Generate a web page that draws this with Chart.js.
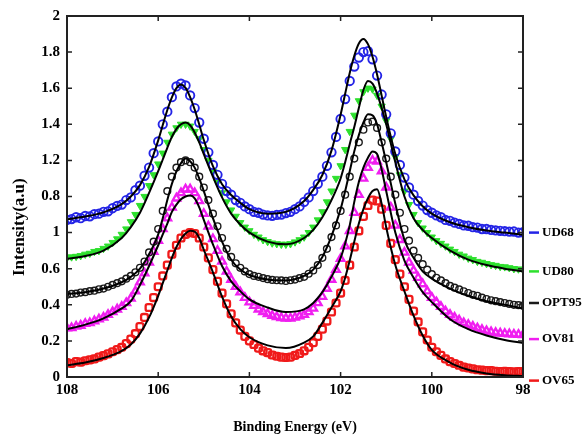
<!DOCTYPE html>
<html><head><meta charset="utf-8">
<script src="https://cdn.jsdelivr.net/npm/chart.js@4"></script>
<style>html,body{margin:0;padding:0;background:#fff;}#wrap{width:587px;height:439px;}</style>
</head><body><div id="wrap"><canvas id="c" width="587" height="439"></canvas></div>
<script>
// Binding energy (eV) of the measured points
const markerEnergy = [108,107.9,107.8,107.7,107.6,107.5,107.4,107.3,107.2,107.1,
107,106.9,106.8,106.7,106.6,106.5,106.4,106.3,106.2,106.1,
106,105.9,105.8,105.7,105.6,105.5,105.4,105.3,105.2,105.1,
105,104.9,104.8,104.7,104.6,104.5,104.4,104.3,104.2,104.1,
104,103.9,103.8,103.7,103.6,103.5,103.4,103.3,103.2,103.1,
103,102.9,102.8,102.7,102.6,102.5,102.4,102.3,102.2,102.1,
102,101.9,101.8,101.7,101.6,101.5,101.4,101.3,101.2,101.1,
101,100.9,100.8,100.7,100.6,100.5,100.4,100.3,100.2,100.1,
100,99.9,99.8,99.7,99.6,99.5,99.4,99.3,99.2,99.1,
99,98.9,98.8,98.7,98.6,98.5,98.4,98.3,98.2,98.1,
98];
// Binding energy (eV) of the fitted curves
const fitEnergy = [108,107.6,107.2,106.8,106.6,106.4,106.2,106,105.9,105.8,
105.7,105.6,105.5,105.4,105.3,105.2,105.1,105,104.8,104.6,
104.4,104.2,104,103.6,103.2,102.8,102.6,102.4,102.2,102,
101.9,101.8,101.7,101.6,101.5,101.4,101.3,101.2,101.1,101,
100.8,100.6,100.4,100.2,100,99.6,99.2,98.8,98.4,98];

const ud68Points = [.87,.875,.885,.88,.892,.89,.902,.905,.915,.918,
.935,.948,.955,.98,.995,1.035,1.06,1.115,1.16,1.24,
1.305,1.40,1.47,1.55,1.61,1.625,1.615,1.56,1.49,1.41,
1.32,1.245,1.175,1.12,1.07,1.03,1.01,.98,.965,.945,
.93,.915,.91,.90,.895,.893,.898,.90,.908,.915,
.93,.945,.97,.995,1.03,1.07,1.11,1.17,1.245,1.33,
1.43,1.54,1.64,1.72,1.77,1.80,1.805,1.76,1.67,1.565,
1.455,1.35,1.25,1.175,1.105,1.05,1.01,.975,.95,.925,
.91,.895,.885,.87,.865,.855,.848,.84,.838,.83,
.828,.82,.82,.815,.812,.81,.808,.805,.806,.80,
.802];
const ud68Fit = [.874,.889,.912,.958,1.00,1.063,1.164,1.311,1.396,1.479,
1.549,1.60,1.62,1.602,1.551,1.482,1.399,1.313,1.168,1.068,
1.008,.965,.93,.905,.915,.975,1.037,1.119,1.254,1.453,
1.569,1.684,1.78,1.848,1.873,1.844,1.774,1.676,1.559,1.441,
1.235,1.095,1.006,.946,.905,.857,.83,.812,.80,.788];

const ud80Points = [.66,.665,.668,.672,.68,.685,.695,.70,.712,.725,
.745,.765,.79,.82,.86,.90,.95,1.00,1.06,1.12,
1.18,1.24,1.30,1.345,1.38,1.40,1.40,1.39,1.36,1.32,
1.26,1.20,1.14,1.08,1.02,.97,.925,.89,.855,.83,
.81,.79,.775,.76,.75,.742,.738,.735,.735,.738,
.748,.76,.775,.80,.83,.87,.915,.97,1.03,1.10,
1.17,1.26,1.36,1.45,1.53,1.58,1.60,1.595,1.56,1.50,
1.42,1.32,1.22,1.12,1.03,.955,.90,.855,.825,.80,
.775,.755,.74,.725,.708,.695,.68,.67,.658,.65,
.64,.635,.628,.622,.618,.612,.61,.605,.60,.598,
.595];
const ud80Fit = [.655,.67,.70,.77,.83,.91,1.02,1.14,1.205,1.27,
1.33,1.375,1.40,1.41,1.395,1.355,1.30,1.235,1.11,.995,
.905,.845,.80,.75,.735,.77,.815,.885,.98,1.10,
1.19,1.29,1.385,1.49,1.59,1.64,1.625,1.57,1.49,1.40,
1.19,1.00,.88,.815,.77,.70,.65,.62,.60,.585];

const opt95Points = [.455,.46,.462,.468,.47,.476,.478,.486,.49,.50,
.51,.52,.53,.545,.56,.58,.605,.64,.69,.75,
.82,.92,1.03,1.11,1.16,1.19,1.20,1.19,1.16,1.11,
1.05,.98,.905,.835,.77,.71,.665,.63,.605,.585,
.57,.56,.555,.548,.542,.538,.536,.535,.532,.536,
.54,.548,.555,.572,.59,.62,.66,.71,.775,.84,
.92,1.01,1.11,1.21,1.30,1.37,1.41,1.415,1.38,1.30,
1.21,1.11,1.01,.91,.82,.755,.70,.66,.625,.595,
.57,.55,.535,.52,.505,.495,.485,.475,.465,.455,
.45,.44,.432,.425,.42,.415,.41,.405,.40,.398,
.395];
const opt95Fit = [.46,.47,.49,.525,.555,.60,.68,.79,.88,.98,
1.07,1.14,1.185,1.21,1.195,1.16,1.10,1.03,.88,.75,
.65,.595,.565,.54,.535,.56,.595,.665,.78,.93,
1.03,1.14,1.25,1.34,1.41,1.455,1.45,1.40,1.30,1.19,
.96,.76,.66,.585,.545,.49,.45,.42,.40,.38];

const ov81Points = [.27,.272,.28,.285,.295,.30,.31,.32,.33,.345,
.36,.375,.39,.41,.435,.475,.525,.575,.635,.695,
.755,.82,.88,.94,.99,1.02,1.04,1.04,1.02,.975,
.905,.835,.765,.70,.64,.585,.54,.50,.47,.44,
.415,.395,.375,.36,.35,.34,.333,.328,.325,.325,
.33,.337,.345,.36,.38,.41,.445,.49,.54,.595,
.655,.725,.81,.91,1.01,1.10,1.16,1.20,1.195,1.14,
1.05,.94,.84,.76,.69,.635,.59,.55,.515,.475,
.44,.415,.39,.365,.345,.33,.315,.30,.29,.28,
.27,.262,.255,.25,.245,.242,.24,.238,.236,.235,
.233];
const ov81Fit = [.265,.29,.325,.38,.42,.51,.615,.73,.79,.85,
.915,.955,.985,1.0,1.005,.99,.94,.87,.735,.615,
.53,.475,.43,.385,.36,.375,.41,.47,.555,.66,
.74,.84,.97,1.08,1.16,1.215,1.25,1.235,1.15,1.03,
.80,.645,.55,.47,.415,.32,.265,.23,.205,.188];

const ov65Points = [.08,.075,.085,.082,.09,.095,.10,.11,.118,.128,
.14,.152,.165,.185,.21,.24,.28,.33,.385,.44,
.50,.56,.62,.68,.73,.77,.79,.80,.795,.77,
.72,.66,.595,.53,.465,.405,.35,.30,.26,.225,
.20,.18,.16,.145,.135,.122,.115,.11,.108,.11,
.12,.13,.145,.165,.19,.225,.265,.31,.36,.41,
.465,.535,.62,.72,.81,.89,.95,.98,.975,.93,
.84,.74,.65,.57,.50,.43,.365,.305,.25,.205,
.165,.14,.12,.10,.085,.075,.065,.055,.05,.045,
.04,.038,.035,.035,.032,.03,.032,.03,.028,.03,
.03];
const ov65Fit = [.065,.08,.105,.145,.18,.24,.33,.45,.52,.59,
.66,.72,.765,.795,.81,.805,.77,.705,.58,.445,
.335,.265,.22,.175,.16,.19,.225,.30,.385,.475,
.55,.645,.75,.85,.93,.99,1.03,1.04,.96,.83,
.62,.475,.34,.23,.15,.08,.04,.02,.01,.005];

const seriesNames = ['UD68','UD80','OPT95','OV81','OV65'];
const seriesLabelValues = [0.80, 0.585, 0.41, 0.21, -0.02];
const yTickLabels = ['0','0.2','0.4','0.6','1','0.8','1.2','1.4','1.6','1.8','2'];
const xTitle = 'Binding Energy (eV)';
const yTitle = 'Intensity(a.u)';

const seriesPoints = [ud68Points, ud80Points, opt95Points, ov81Points, ov65Points];
const seriesFits = [ud68Fit, ud80Fit, opt95Fit, ov81Fit, ov65Fit];
const seriesColors = ['#2424e6','#2ee02e','#1a1a1a','#f01ef0','#f01a1a'];
const markerStyles = [
  {pointStyle:'circle', pointRadius:4.2, pointBorderWidth:1.9, filled:false, rot:0},
  {pointStyle:'triangle', pointRadius:4.2, pointBorderWidth:1, filled:true, rot:180},
  {pointStyle:'circle', pointRadius:3.4, pointBorderWidth:1.4, filled:false, rot:0},
  {pointStyle:'triangle', pointRadius:4.4, pointBorderWidth:2.3, filled:false, rot:0},
  {pointStyle:'rectRounded', pointRadius:4, pointBorderWidth:2.3, filled:false, rot:0}
];

const datasets = [];
seriesPoints.forEach((vals, i) => {
  const s = markerStyles[i];
  datasets.push({
    label: seriesNames[i],
    data: markerEnergy.map((e, k) => ({x: e, y: vals[k]})),
    showLine: false,
    pointStyle: s.pointStyle,
    pointRadius: s.pointRadius,
    pointRotation: s.rot,
    pointBorderWidth: s.pointBorderWidth,
    pointBorderColor: seriesColors[i],
    pointBackgroundColor: s.filled ? seriesColors[i] : 'rgba(0,0,0,0)',
    order: 1
  });
});
seriesFits.forEach((vals, i) => {
  datasets.push({
    label: seriesNames[i] + ' fit',
    data: fitEnergy.map((e, k) => ({x: e, y: vals[k]})),
    showLine: true,
    pointRadius: 0,
    borderColor: '#000',
    borderWidth: 2,
    cubicInterpolationMode: 'monotone',
    fill: false,
    order: 0
  });
});

const serif = '"Liberation Serif", "DejaVu Serif", serif';

const frameAndLabels = {
  id: 'frameAndLabels',
  afterDatasetsDraw(chart) {
    const {ctx, chartArea: a} = chart;
    const xs = chart.scales.x, ys = chart.scales.y;
    ctx.save();
    ctx.strokeStyle = '#222';
    ctx.lineWidth = 2;
    ctx.strokeRect(a.left, a.top, a.right - a.left, a.bottom - a.top);
    ctx.lineWidth = 1.5;
    ctx.beginPath();
    xs.ticks.forEach(t => {
      const px = xs.getPixelForValue(t.value);
      ctx.moveTo(px, a.bottom); ctx.lineTo(px, a.bottom - 5);
      ctx.moveTo(px, a.top); ctx.lineTo(px, a.top + 5);
    });
    ys.ticks.forEach(t => {
      const py = ys.getPixelForValue(t.value);
      ctx.moveTo(a.left, py); ctx.lineTo(a.left + 5, py);
      ctx.moveTo(a.right, py); ctx.lineTo(a.right - 5, py);
    });
    ctx.stroke();
    // series labels at the right
    ctx.font = 'bold 13px ' + serif;
    ctx.textBaseline = 'middle';
    ctx.textAlign = 'left';
    seriesNames.forEach((name, i) => {
      const py = ys.getPixelForValue(seriesLabelValues[i]);
      ctx.strokeStyle = seriesColors[i];
      ctx.lineWidth = 2.5;
      ctx.beginPath();
      ctx.moveTo(a.right + 6, py); ctx.lineTo(a.right + 16, py);
      ctx.stroke();
      ctx.fillStyle = '#000';
      ctx.fillText(name, a.right + 19, py);
    });
    // y-axis title
    ctx.save();
    ctx.translate(20, ys.getPixelForValue(0.83));
    ctx.rotate(-Math.PI / 2);
    ctx.font = 'bold 17px ' + serif;
    ctx.textAlign = 'center';
    ctx.textBaseline = 'middle';
    ctx.fillStyle = '#000';
    ctx.fillText(yTitle, 0, 0);
    ctx.restore();
    ctx.restore();
  }
};

new Chart(document.getElementById('c'), {
  type: 'scatter',
  data: {datasets},
  options: {
    responsive: false,
    devicePixelRatio: 1,
    animation: false,
    layout: {padding: {left: 0, right: 64, top: 11, bottom: 0}},
    plugins: {legend: {display: false}, tooltip: {enabled: false}},
    scales: {
      x: {
        type: 'linear', reverse: true, min: 98, max: 108,
        afterFit: s => { s.height = 62; },
        grid: {display: false, drawTicks: false}, border: {display: false},
        ticks: {stepSize: 2, padding: 4, color: '#000', font: {family: serif, size: 15, weight: 'bold'},
                callback: v => String(v)},
        title: {display: true, text: xTitle, color: '#000',
                font: {family: serif, size: 14, weight: 'bold'}, padding: {top: 0, bottom: 3}}
      },
      y: {
        type: 'linear', min: 0, max: 2,
        afterFit: s => { s.width = 67; },
        grid: {display: false, drawTicks: false}, border: {display: false},
        ticks: {stepSize: 0.2, autoSkip: false, padding: 7, color: '#000',
                font: {family: serif, size: 15, weight: 'bold'},
                callback: (v, i) => yTickLabels[i]},
        title: {display: false}
      }
    }
  },
  plugins: [frameAndLabels]
});
</script>
</body></html>
